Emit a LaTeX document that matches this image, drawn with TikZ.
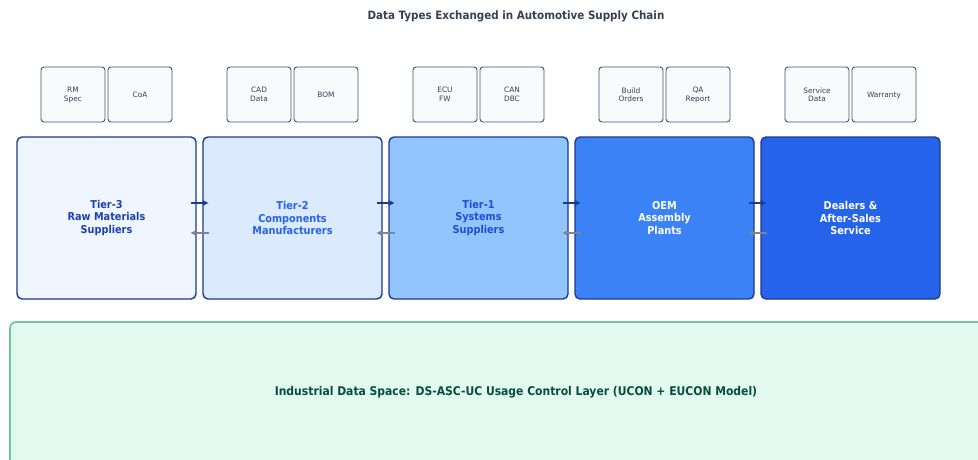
\documentclass[tikz,border=0pt]{standalone}
\usepackage{fontspec}
\setmainfont{DejaVu Sans}
\newfontfamily\cond{DejaVu Sans Condensed}
\usetikzlibrary{arrows.meta}
\definecolor{titlec}{HTML}{374151}
\definecolor{smfill}{HTML}{F8FAFC}
\definecolor{smdraw}{HTML}{475569}
\definecolor{smtext}{HTML}{334155}
\definecolor{bdraw}{HTML}{1E3A8A}
\definecolor{fA}{HTML}{EFF6FF}
\definecolor{fB}{HTML}{DBEAFE}
\definecolor{fC}{HTML}{93C5FD}
\definecolor{fD}{HTML}{3B82F6}
\definecolor{fE}{HTML}{2563EB}
\definecolor{tA}{HTML}{1E40AF}
\definecolor{tB}{HTML}{2563EB}
\definecolor{tC}{HTML}{1D4ED8}
\definecolor{gfill}{HTML}{E1F9EF}
\definecolor{gdraw}{HTML}{6CC4A1}
\definecolor{gtext}{HTML}{064E3B}
\definecolor{backc}{HTML}{7C8594}
\tikzset{
  smbox/.style={draw=smdraw, fill=smfill, line width=0.9pt, rounded corners=3pt,
    minimum width=64pt, minimum height=55pt, inner sep=0pt, align=center,
    font=\fontsize{7.4}{8.6}\selectfont, text=smtext, text depth=0pt},
  bigbox/.style={draw=bdraw, line width=1.4pt, rounded corners=5pt,
    minimum width=179pt, minimum height=162pt, inner sep=0pt, align=center,
    font=\cond\bfseries\fontsize{10.8}{12.4}\selectfont},
  fwd/.style={draw=bdraw, line width=2pt, -{Stealth[length=6pt,width=6pt]}},
  back/.style={draw=backc, line width=1.2pt, -{Stealth[length=5pt,width=5pt]}}
}
\begin{document}
\begin{tikzpicture}[x=1pt,y=-1pt]
\useasboundingbox (0,0) rectangle (978,460);
\clip (0,0) rectangle (978,460);
\fill[white] (0,0) rectangle (978,460);
\node[font=\cond\bfseries\fontsize{11.5}{13}\selectfont, text=titlec] (title) at (516,16) {Data Types Exchanged in Automotive Supply Chain};
% small boxes
\node[smbox] (s1a) at (73,94.5) {RM\\Spec};
\node[smbox] (s1b) at (140,94.5) {CoA};
\node[smbox] (s2a) at (259,94.5) {CAD\\Data};
\node[smbox] (s2b) at (326,94.5) {BOM};
\node[smbox] (s3a) at (445,94.5) {ECU\\FW};
\node[smbox] (s3b) at (512,94.5) {CAN\\DBC};
\node[smbox] (s4a) at (631,94.5) {Build\\Orders};
\node[smbox] (s4b) at (698,94.5) {QA\\Report};
\node[smbox] (s5a) at (817,94.5) {Service\\Data};
\node[smbox] (s5b) at (884,94.5) {Warranty};
% big boxes
\node[bigbox, fill=fA, text=tA] (b1) at (106.5,218) {Tier-3\\Raw Materials\\Suppliers};
\node[bigbox, fill=fB, text=tB] (b2) at (292.5,218) {Tier-2\\Components\\Manufacturers};
\node[bigbox, fill=fC, text=tC] (b3) at (478.5,218) {Tier-1\\Systems\\Suppliers};
\node[bigbox, fill=fD, text=white] (b4) at (664.5,218) {OEM\\Assembly\\Plants};
\node[bigbox, fill=fE, text=white] (b5) at (850.5,218) {Dealers \&\\After-Sales\\Service};
% arrows
\foreach \a/\b in {b1/b2,b2/b3,b3/b4,b4/b5}{
  \draw[fwd] ([xshift=-6pt,yshift=15pt]\a.east) -- ([xshift=6pt,yshift=15pt]\b.west);
  \draw[back] ([xshift=7pt,yshift=-15pt]\b.west) -- ([xshift=-6pt,yshift=-15pt]\a.east);
}
% bottom layer
\draw[draw=gdraw, fill=gfill, line width=1.6pt, rounded corners=6pt] (10,322) rectangle (1000,480);
\node[font=\cond\bfseries\fontsize{12}{14}\selectfont, text=gtext] (layer) at (516,392.5) {Industrial Data Space: DS-ASC-UC Usage Control Layer (UCON + EUCON Model)};
\end{tikzpicture}
\end{document}
